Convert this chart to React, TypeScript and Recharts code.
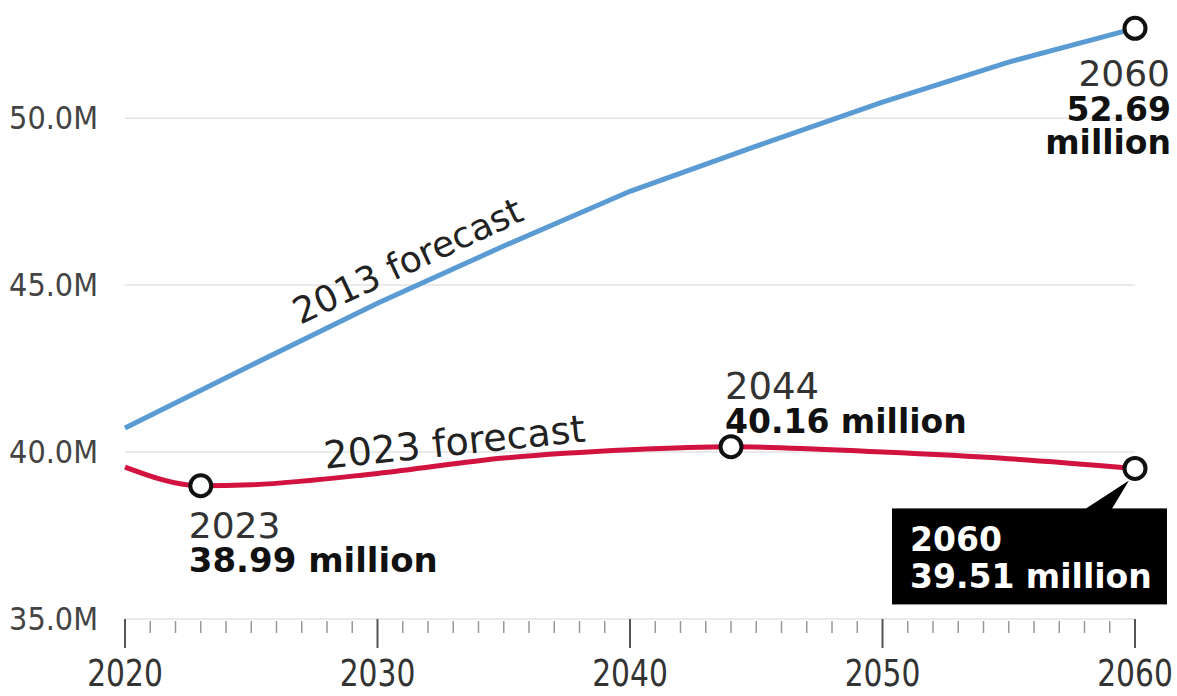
import React from "react";
import { LineChart, Line, XAxis, YAxis, CartesianGrid, ReferenceDot } from "recharts";

// Data (population, millions)
const years2013 = [2020, 2025, 2030, 2035, 2040, 2045, 2050, 2055, 2060];
const pop2013 = [40.72, 42.6, 44.46, 46.17, 47.81, 49.16, 50.48, 51.68, 52.69];

const years2023 = [2020, 2023, 2025, 2030, 2035, 2040, 2044, 2050, 2055, 2060];
const pop2023 = [39.55, 38.99, 39.02, 39.36, 39.82, 40.07, 40.16, 40.0, 39.8, 39.51];

const yTicks = [35, 40, 45, 50];
const majorTicks = [2020, 2030, 2040, 2050, 2060];
const allTicks = Array.from({ length: 41 }, (_, i) => 2020 + i);

const data2013 = years2013.map((year, i) => ({ year, value: pop2013[i] }));
const data2023 = years2023.map((year, i) => ({ year, value: pop2023[i] }));

const BLUE = "#5b9bd3";
const RED = "#d2123f";
const ANNO_FONT = "'DejaVu Sans', sans-serif";
const AXIS_FONT = "'Liberation Sans Narrow', 'DejaVu Sans Condensed', 'Liberation Sans', sans-serif";

const XTick = (props: any) => {
  const { x, y, payload } = props;
  const v = payload.value;
  const major = majorTicks.includes(v);
  return (
    <g>
      <line
        x1={x}
        x2={x}
        y1={y + (major ? 0 : 2)}
        y2={y + (major ? 29 : 14)}
        stroke={major ? "#555" : "#999"}
        strokeWidth={major ? 2 : 1.5}
      />
      {major && (
        <g transform={`translate(${x},${y + 67}) scale(0.87,1)`}>
          <text x={0} y={0} textAnchor="middle" fontFamily={AXIS_FONT} fontSize={38} fill="#333">
            {v}
          </text>
        </g>
      )}
    </g>
  );
};

const YTick = (props: any) => {
  const { x, y, payload } = props;
  return (
    <text x={x} y={y + 11} textAnchor="end" fontFamily={AXIS_FONT} fontSize={32} fill="#444">
      {payload.value.toFixed(1)}M
    </text>
  );
};

const Ring = ({ cx, cy }: { cx: number; cy: number }) => (
  <circle cx={cx} cy={cy} r={10.5} fill="#fff" stroke="#111" strokeWidth={4} />
);

const AnnoBlue2060 = (p: any) => (
  <g>
    <Ring cx={p.cx} cy={p.cy} />
    <text x={p.cx + 35} y={p.cy + 58} textAnchor="end" fontFamily={ANNO_FONT} fontSize={36} fill="#333">2060</text>
    <text x={p.cx + 36} y={p.cy + 93} textAnchor="end" fontFamily={ANNO_FONT} fontSize={33} fontWeight="bold" fill="#111">52.69</text>
    <text x={p.cx + 36} y={p.cy + 126} textAnchor="end" fontFamily={ANNO_FONT} fontSize={33} fontWeight="bold" fill="#111">million</text>
  </g>
);

const AnnoRed2023 = (p: any) => (
  <g>
    <Ring cx={p.cx} cy={p.cy} />
    <text x={p.cx - 12} y={p.cy + 52} fontFamily={ANNO_FONT} fontSize={36} fill="#333">2023</text>
    <text x={p.cx - 12} y={p.cy + 86} fontFamily={ANNO_FONT} fontSize={34} fontWeight="bold" fill="#111">38.99 million</text>
  </g>
);

const AnnoRed2044 = (p: any) => (
  <g>
    <Ring cx={p.cx} cy={p.cy} />
    <text x={p.cx - 6} y={p.cy - 48} fontFamily={ANNO_FONT} fontSize={37} fill="#333">2044</text>
    <text x={p.cx - 6} y={p.cy - 14} fontFamily={ANNO_FONT} fontSize={33} fontWeight="bold" fill="#111">40.16 million</text>
  </g>
);

const AnnoRed2060 = (p: any) => {
  const { cx, cy } = p;
  return (
    <g>
      <polygon points={`${cx - 52},${cy + 42} ${cx - 24},${cy + 42} ${cx - 6},${cy + 12}`} fill="#000" />
      <rect x={cx - 243} y={cy + 40} width={275} height={96} fill="#000" />
      <Ring cx={cx} cy={cy} />
      <text x={cx - 225} y={cy + 83} fontFamily={ANNO_FONT} fontSize={33} fontWeight="bold" fill="#fff">2060</text>
      <text x={cx - 225} y={cy + 120} fontFamily={ANNO_FONT} fontSize={33} fontWeight="bold" fill="#fff">39.51 million</text>
    </g>
  );
};

const Label2013 = (p: any) => (
  <text
    x={p.cx}
    y={p.cy}
    transform={`rotate(-25 ${p.cx} ${p.cy})`}
    textAnchor="middle"
    fontFamily={ANNO_FONT}
    fontSize={36}
    fill="#222"
  >
    2013 forecast
  </text>
);

const Label2023 = (p: any) => (
  <text
    x={p.cx}
    y={p.cy}
    transform={`rotate(-6 ${p.cx} ${p.cy})`}
    textAnchor="middle"
    fontFamily={ANNO_FONT}
    fontSize={38}
    fill="#222"
  >
    2023 forecast
  </text>
);

export default function App() {
  return (
    <div style={{ position: "absolute", left: 0, top: 0, width: 1177, height: 696, background: "#fff" }}>
      <LineChart width={1177} height={696} margin={{ top: 18, right: 42, bottom: 0, left: 0 }}>
        <CartesianGrid horizontal vertical={false} horizontalValues={yTicks} stroke="#e3e3e3" strokeWidth={1.5} />
        <XAxis
          dataKey="year"
          type="number"
          domain={[2020, 2060]}
          ticks={allTicks}
          interval={0}
          tick={<XTick />}
          tickLine={false}
          axisLine={false}
          tickSize={0}
          tickMargin={0}
          height={77}
          allowDuplicatedCategory={false}
        />
        <YAxis
          type="number"
          domain={[35, 53]}
          ticks={yTicks}
          tick={<YTick />}
          tickLine={false}
          axisLine={false}
          tickSize={0}
          tickMargin={27}
          width={125}
        />
        <Line
          data={data2013}
          dataKey="value"
          type="linear"
          stroke={BLUE}
          strokeWidth={5}
          dot={false}
          activeDot={false}
          isAnimationActive={false}
        />
        <Line
          data={data2023}
          dataKey="value"
          type="monotone"
          stroke={RED}
          strokeWidth={5}
          dot={false}
          activeDot={false}
          isAnimationActive={false}
        />
        <ReferenceDot x={2031.4} y={45.39} r={0} shape={Label2013} />
        <ReferenceDot x={2033.1} y={39.91} r={0} shape={Label2023} />
        <ReferenceDot x={2060} y={52.69} shape={AnnoBlue2060} />
        <ReferenceDot x={2023} y={38.99} shape={AnnoRed2023} />
        <ReferenceDot x={2044} y={40.16} shape={AnnoRed2044} />
        <ReferenceDot x={2060} y={39.51} shape={AnnoRed2060} />
      </LineChart>
    </div>
  );
}
